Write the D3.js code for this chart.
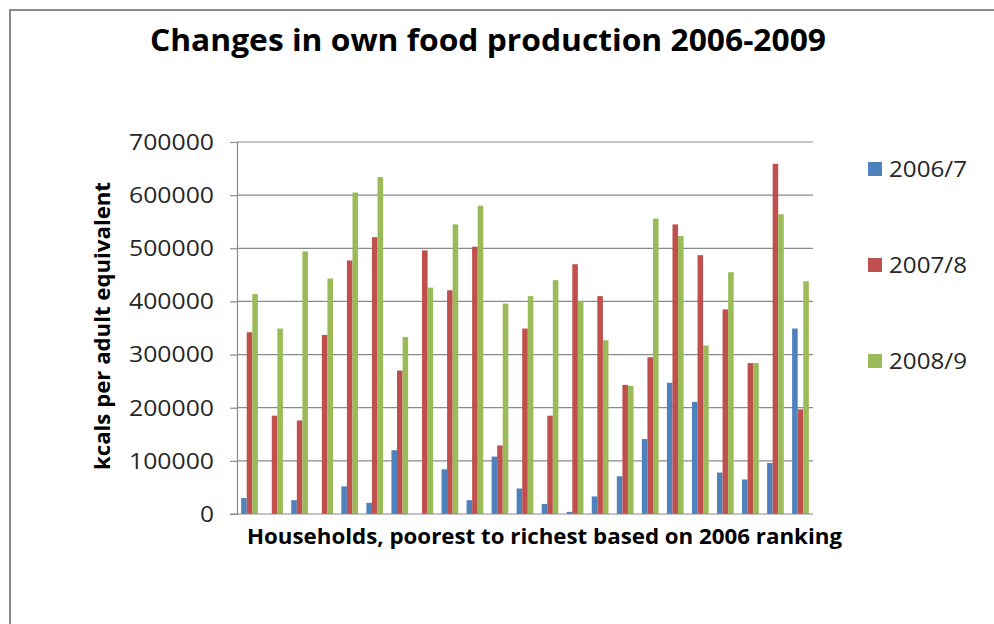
<!DOCTYPE html>
<html>
<head>
<meta charset="utf-8">
<script src="https://cdn.jsdelivr.net/npm/d3@7"></script>
<style>
  body { margin: 0; background: #fff; }
  svg { display: block; font-family: "Open Sans", "Liberation Sans", sans-serif; }
</style>
</head>
<body>
<div id="chart"></div>
<script>
// 23 households, poorest to richest
var households = d3.range(1, 24).map(String);
var seriesNames = ["2006/7", "2007/8", "2008/9"];
var seriesColors = ["#4F81BD", "#C0504D", "#9BBB59"];

var values0607 = [30000, 0, 26000, 0, 52000, 21000, 120000, 0, 84000, 26000, 108000, 48000,
                  19000, 4000, 33000, 71000, 141000, 247000, 211000, 78000, 65000, 96000, 349000];
var values0708 = [342000, 185000, 176000, 337000, 477000, 521000, 270000, 496000, 421000, 503000, 129000, 349000,
                  185000, 470000, 410000, 243000, 295000, 545000, 487000, 385000, 284000, 659000, 197000];
var values0809 = [414000, 349000, 494000, 443000, 605000, 634000, 333000, 426000, 545000, 580000, 396000, 410000,
                  440000, 401000, 327000, 241000, 556000, 523000, 317000, 455000, 284000, 564000, 438000];
var yTicks = [0, 100000, 200000, 300000, 400000, 500000, 600000, 700000];

var width = 994, height = 624;
var plot = { left: 237, right: 813, top: 142, bottom: 514 };

var svg = d3.select("#chart").append("svg")
    .attr("width", width)
    .attr("height", height);

// chart frame (only top and left edges visible)
svg.append("path")
    .attr("d", "M10,624 L10,10 L994,10")
    .style("fill", "none")
    .style("stroke", "#8a8a8a")
    .style("stroke-width", 2);

var x = d3.scaleBand()
    .domain(households)
    .range([plot.left, plot.right])
    .paddingInner(1 / 3)
    .paddingOuter(1 / 6);

var xInner = d3.scaleBand()
    .domain(seriesNames)
    .range([0, x.bandwidth()]);

var y = d3.scaleLinear()
    .domain([0, 700000])
    .range([plot.bottom, plot.top]);

// gridlines
svg.append("g")
    .selectAll("line")
    .data(yTicks.slice(1))
    .enter().append("line")
    .attr("x1", plot.left)
    .attr("x2", plot.right)
    .attr("y1", function(d) { return y(d); })
    .attr("y2", function(d) { return y(d); })
    .style("stroke", "#8a8a8a")
    .style("stroke-width", 1.2);

// bars
var series = [values0607, values0708, values0809];
series.forEach(function(vals, si) {
  svg.append("g")
      .selectAll("rect")
      .data(vals)
      .enter().append("rect")
      .attr("x", function(d, i) { return x(households[i]) + xInner(seriesNames[si]); })
      .attr("width", xInner.bandwidth())
      .attr("y", function(d) { return y(d); })
      .attr("height", function(d) { return y(0) - y(d); })
      .style("fill", seriesColors[si]);
});

// y axis
var yAxis = svg.append("g")
    .attr("transform", "translate(" + plot.left + ",0)")
    .call(d3.axisLeft(y).tickValues(yTicks).tickSize(7).tickPadding(16).tickFormat(d3.format("d")));
yAxis.select(".domain").style("stroke", "#8a8a8a").style("stroke-width", 1.2);
yAxis.selectAll(".tick line").style("stroke", "#8a8a8a").style("stroke-width", 1.2);
yAxis.selectAll(".tick text")
    .style("font-size", "21px")
    .style("font-family", "'Open Sans', sans-serif")
    .style("fill", "#262626")
    .attr("dy", "0.35em")
    .attr("textLength", function(d) { return d === 0 ? 14 : 85; })
    .attr("lengthAdjust", "spacingAndGlyphs");

// x axis baseline
svg.append("line")
    .attr("x1", plot.left - 7)
    .attr("x2", plot.right)
    .attr("y1", y(0))
    .attr("y2", y(0))
    .style("stroke", "#8a8a8a")
    .style("stroke-width", 1.2);

// title
svg.append("text")
    .attr("x", 150)
    .attr("y", 51)
    .attr("textLength", 676)
    .attr("lengthAdjust", "spacingAndGlyphs")
    .style("font-size", "31px")
    .style("font-weight", "bold")
    .style("fill", "#000")
    .text("Changes in own food production 2006-2009");

// x axis title
svg.append("text")
    .attr("x", 247)
    .attr("y", 544)
    .attr("textLength", 595)
    .attr("lengthAdjust", "spacingAndGlyphs")
    .style("font-size", "22px")
    .style("font-weight", "bold")
    .style("fill", "#000")
    .text("Households, poorest to richest based on 2006 ranking");

// y axis title
svg.append("text")
    .attr("transform", "translate(110,470) rotate(-90)")
    .attr("textLength", 288)
    .attr("lengthAdjust", "spacingAndGlyphs")
    .style("font-size", "22px")
    .style("font-weight", "bold")
    .style("fill", "#000")
    .text("kcals per adult equivalent");

// legend
var legend = svg.append("g")
    .selectAll("g")
    .data(seriesNames)
    .enter().append("g")
    .attr("transform", function(d, i) { return "translate(868," + (162 + i * 96) + ")"; });

legend.append("rect")
    .attr("width", 14)
    .attr("height", 14)
    .style("fill", function(d, i) { return seriesColors[i]; });

legend.append("text")
    .attr("x", 21)
    .attr("y", 15)
    .attr("textLength", 78)
    .attr("lengthAdjust", "spacingAndGlyphs")
    .style("font-size", "22px")
    .style("fill", "#262626")
    .text(function(d) { return d; });
</script>
</body>
</html>
